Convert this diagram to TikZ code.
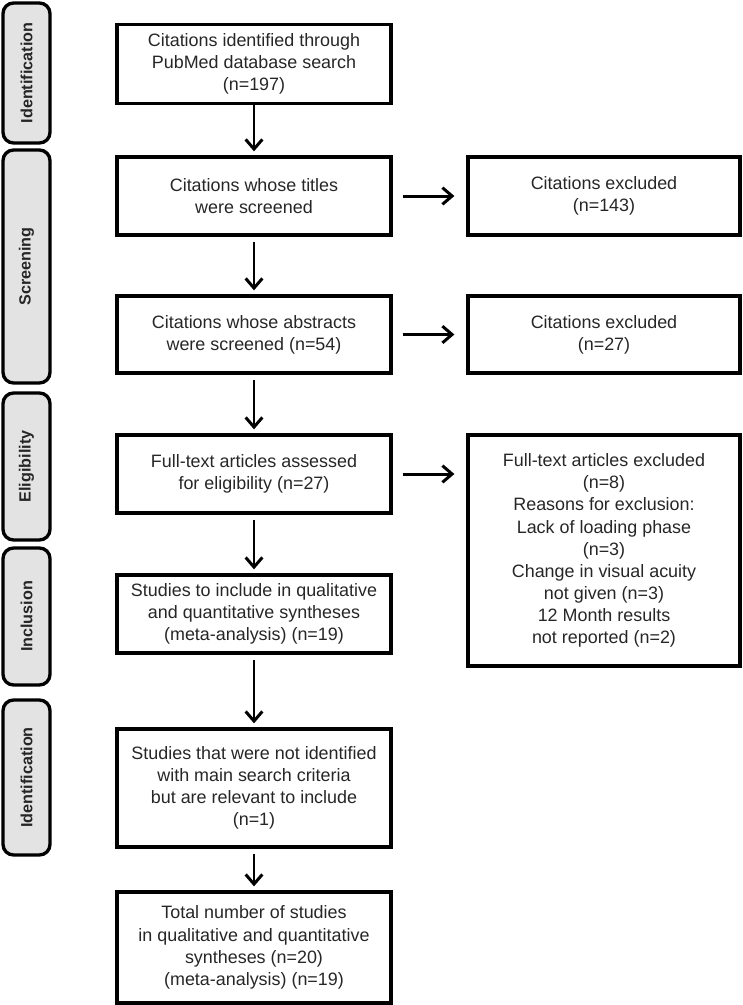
\documentclass[tikz,border=0pt]{standalone}
\usepackage{fontspec}
\setmainfont{Liberation Sans}
\usetikzlibrary{arrows.meta}
\tikzset{>={Straight Barb[length=5.5pt,width=9.5pt]}}
\tikzset{
  flowbox/.style={draw, line width=1.9pt, align=center, inner sep=2pt,
    font=\fontsize{10.2}{12.6}\selectfont, text=black!85},
  phase/.style={draw, line width=1.9pt, rounded corners=6pt, fill=gray!22,
    rotate=90, minimum height=0.94cm, inner sep=0pt,
    font=\bfseries\fontsize{9.2}{11}\selectfont, text=black!85},
  flow/.style={->, line width=1.7pt, shorten <=0.1cm, shorten >=0.08cm},
  sideflow/.style={->, line width=1.7pt, shorten <=0.2cm, shorten >=0.24cm}
}

\begin{document}
\begin{tikzpicture}[x=0.02cm,y=-0.02cm]
  \useasboundingbox (0,0) rectangle (743,1005);

  % phases
  \node[phase, minimum width=2.80cm] (phid) at (26.5,73) {Identification};
  \node[phase, minimum width=4.66cm] (phscr) at (26.5,266.5) {Screening};
  \node[phase, minimum width=2.94cm] (phelig) at (26.5,466.5) {Eligibility};
  \node[phase, minimum width=2.74cm] (phincl) at (26.5,616.5) {Inclusion};
  \node[phase, minimum width=3.10cm] (phextra) at (26.5,777.5) {Identification};

  % main column
  \node[flowbox, minimum width=5.48cm, minimum height=1.58cm] (found) at (254,64)
    {Citations identified through\\PubMed database search\\(n=197)};
  \node[flowbox, minimum width=5.48cm, minimum height=1.56cm] (titles) at (254,196)
    {Citations whose titles\\were screened};
  \node[flowbox, minimum width=5.48cm, minimum height=1.54cm] (abstr) at (254,334.5)
    {Citations whose abstracts\\were screened (n=54)};
  \node[flowbox, minimum width=5.48cm, minimum height=1.56cm] (fulltext) at (254,474)
    {Full-text articles assessed\\for eligibility (n=27)};
  \node[flowbox, minimum width=5.48cm, minimum height=1.56cm] (incl) at (254,614)
    {Studies to include in qualitative\\and quantitative syntheses\\(meta-analysis) (n=19)};
  \node[flowbox, minimum width=5.48cm, minimum height=2.36cm] (extra) at (254,788)
    {Studies that were not identified\\with main search criteria\\but are relevant to include\\(n=1)};
  \node[flowbox, minimum width=5.48cm, minimum height=2.22cm] (total) at (254,947.5)
    {Total number of studies\\in qualitative and quantitative\\syntheses (n=20)\\(meta-analysis) (n=19)};

  % excluded column
  \node[flowbox, minimum width=5.44cm, minimum height=1.56cm] (exttl) at (604,196)
    {Citations excluded\\(n=143)};
  \node[flowbox, minimum width=5.44cm, minimum height=1.54cm] (exabs) at (604,334.5)
    {Citations excluded\\(n=27)};
  \node[flowbox, minimum width=5.44cm, minimum height=4.62cm] (exfull) at (604,550.5)
    {Full-text articles excluded\\(n=8)\\Reasons for exclusion:\\Lack of loading phase\\(n=3)\\Change in visual acuity\\not given (n=3)\\12 Month results\\not reported (n=2)};

  % connectors
  \draw[flow, shorten <=0pt] (found) -- (titles);
  \draw[flow] (titles) -- (abstr);
  \draw[flow] (abstr) -- (fulltext);
  \draw[flow] (fulltext) -- (incl);
  \draw[flow] (incl) -- (extra);
  \draw[flow] (extra) -- (total);
  \draw[sideflow] (titles) -- (exttl);
  \draw[sideflow] (abstr) -- (exabs);
  \draw[sideflow] (fulltext.east) -- (fulltext.east -| exfull.west);
\end{tikzpicture}
\end{document}
